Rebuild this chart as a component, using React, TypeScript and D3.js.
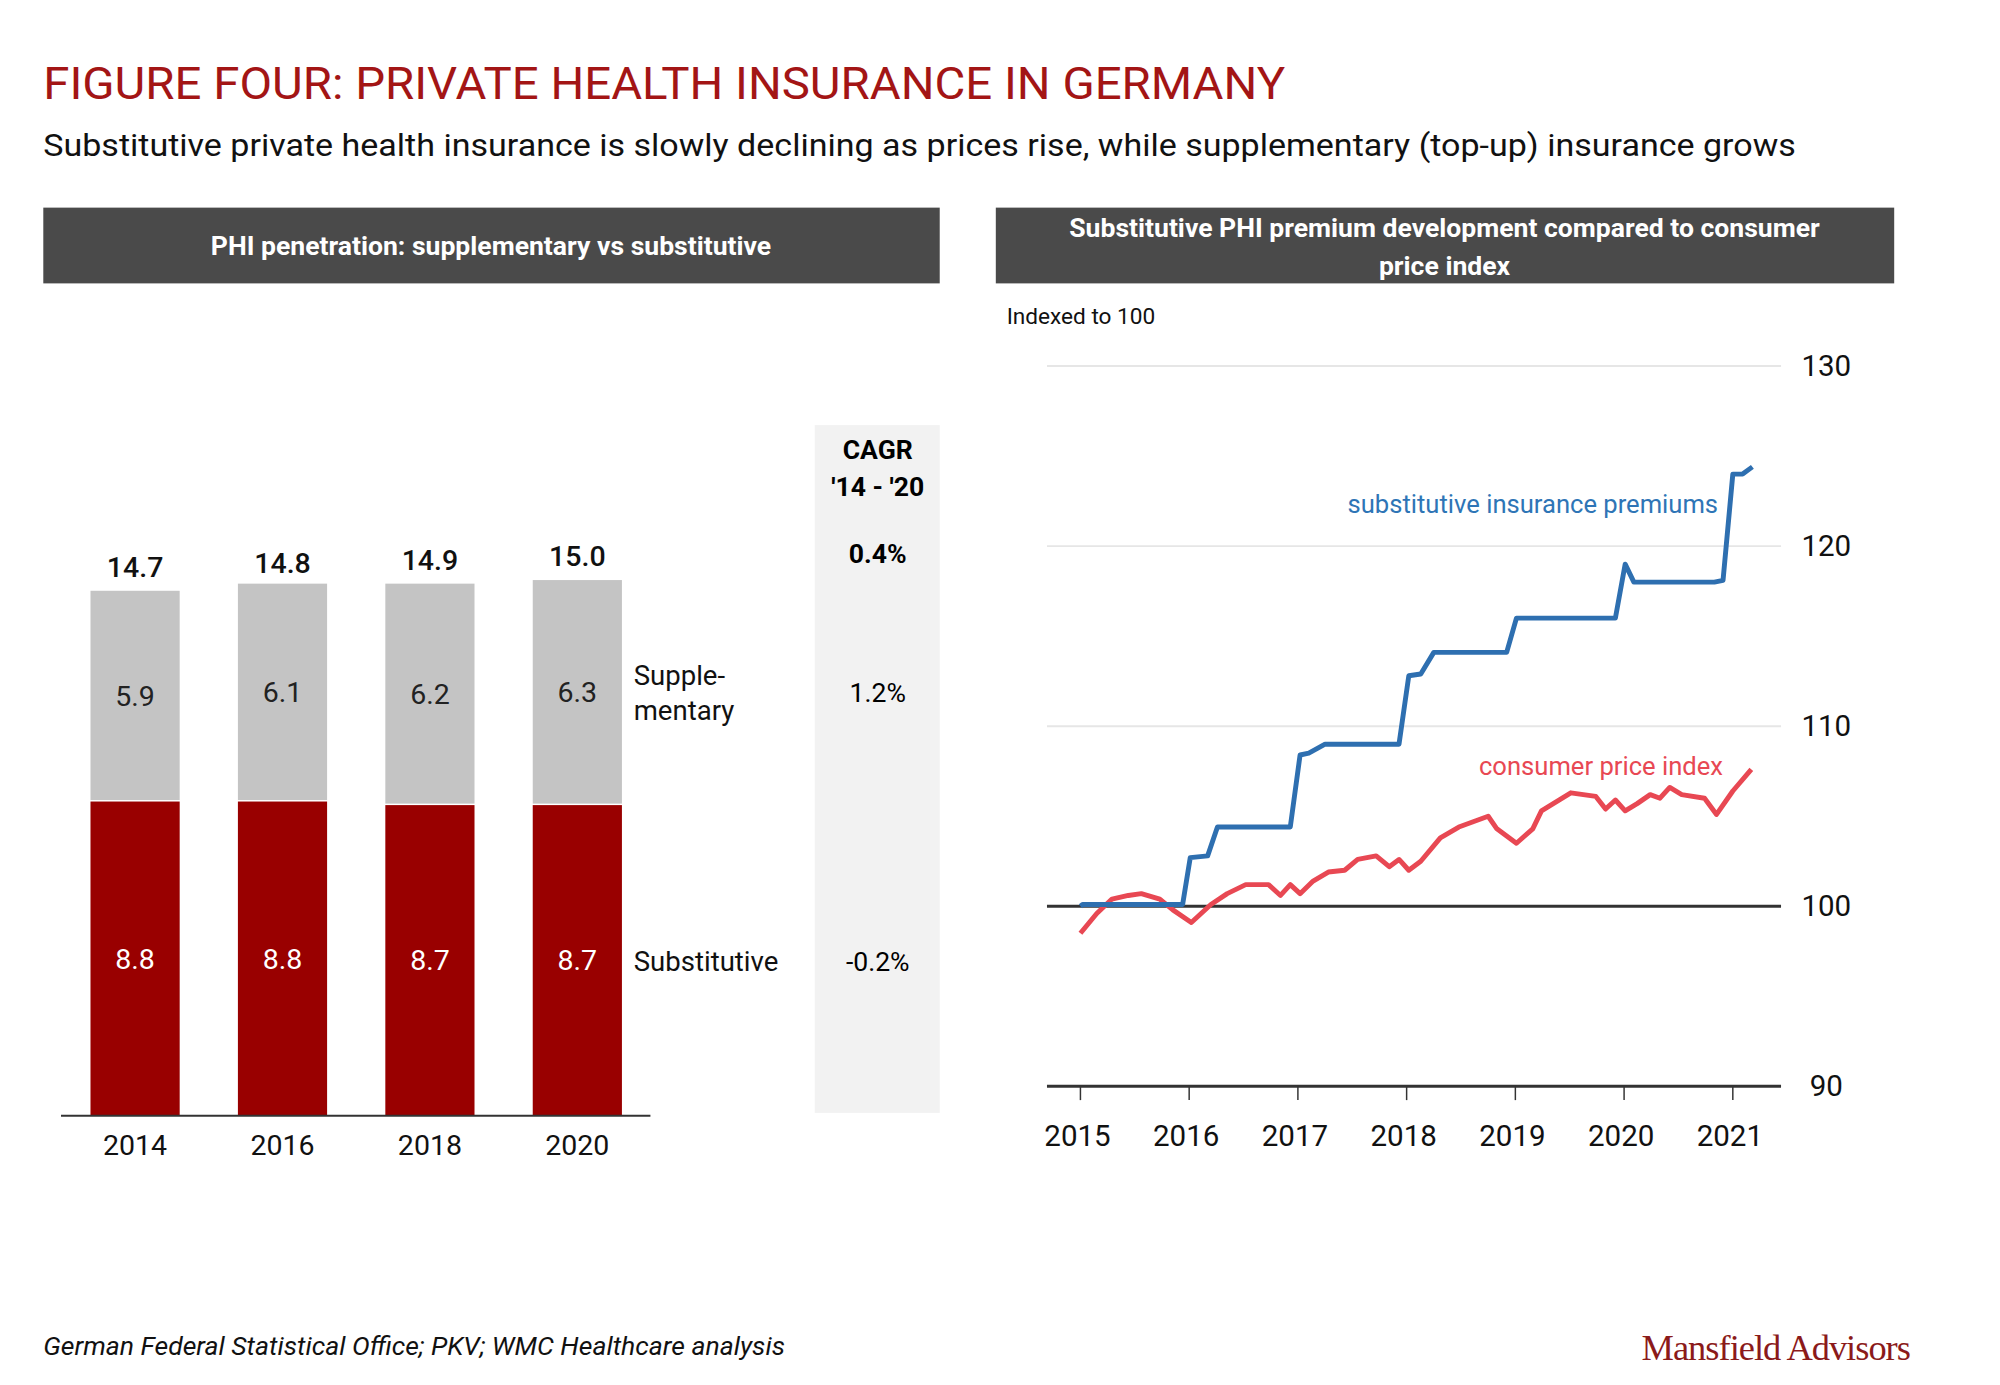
import React from "react";
import * as d3 from "d3";

const years = ["2014", "2016", "2018", "2020"];
const substitutive = [8.8, 8.8, 8.7, 8.7];
const supplementary = [5.9, 6.1, 6.2, 6.3];
const totals = [14.7, 14.8, 14.9, 15.0];
const cagr = ["0.4%", "1.2%", "-0.2%"];

const premiumT = [2015.0, 2015.02, 2015.94, 2016.01, 2016.17, 2016.26, 2016.93, 2017.02, 2017.1, 2017.25, 2017.93, 2018.02, 2018.13, 2018.25, 2018.92, 2019.01, 2019.92, 2020.01, 2020.09, 2020.83, 2020.91, 2021.0, 2021.09, 2021.18];
const premiumV = [100.0, 100.1, 100.1, 102.7, 102.8, 104.4, 104.4, 108.4, 108.5, 109.0, 109.0, 112.8, 112.9, 114.1, 114.1, 116.0, 116.0, 119.0, 118.0, 118.0, 118.1, 124.0, 124.0, 124.4];

const cpiT = [2015.0, 2015.15, 2015.29, 2015.44, 2015.56, 2015.73, 2015.85, 2016.02, 2016.2, 2016.35, 2016.52, 2016.73, 2016.84, 2016.93, 2017.02, 2017.14, 2017.28, 2017.43, 2017.55, 2017.72, 2017.84, 2017.93, 2018.02, 2018.13, 2018.31, 2018.48, 2018.75, 2018.83, 2019.01, 2019.16, 2019.24, 2019.51, 2019.74, 2019.83, 2019.92, 2020.01, 2020.12, 2020.24, 2020.33, 2020.42, 2020.53, 2020.74, 2020.85, 2021.0, 2021.17];
const cpiV = [98.5, 99.6, 100.4, 100.6, 100.7, 100.4, 99.8, 99.1, 100.1, 100.7, 101.2, 101.2, 100.6, 101.2, 100.7, 101.4, 101.9, 102.0, 102.6, 102.8, 102.2, 102.6, 102.0, 102.5, 103.8, 104.4, 105.0, 104.3, 103.5, 104.3, 105.3, 106.3, 106.1, 105.4, 105.9, 105.3, 105.7, 106.2, 106.0, 106.6, 106.2, 106.0, 105.1, 106.4, 107.6];

const yTicks = [90, 100, 110, 120, 130];
const xYears = [2015, 2016, 2017, 2018, 2019, 2020, 2021];

const F = "Roboto, 'Open Sans', sans-serif";

export default function App() {
  const xb = d3.scaleBand<string>().domain(years).range([62, 662]).paddingInner(0.395).paddingOuter(0.2);
  const yb = d3.scaleLinear().domain([0, 15]).range([1134, 1134 - 15 * 36.3]);

  const xl = d3.scaleLinear().domain([2015, 2021]).range([1098, 1761]);
  const yl = d3.scaleLinear().domain([90, 130]).range([1104, 372]);
  const line = d3.line<[number, number]>().x(d => xl(d[0])).y(d => yl(d[1]));
  const prem = line(premiumT.map((t, i) => [t, premiumV[i]]) as [number, number][]) || "";
  const cpi = line(cpiT.map((t, i) => [t, cpiV[i]]) as [number, number][]) || "";

  return (
    <div style={{ margin: -8 }}>
      <svg width={2000} height={1385} style={{ display: "block", background: "#fff" }} fontFamily={F}>
        <g transform="scale(0.984)">
        <text x={44} y={101} fontSize={46} fill="#a31515" textLength={1262} lengthAdjust="spacingAndGlyphs">FIGURE FOUR: PRIVATE HEALTH INSURANCE IN GERMANY</text>
        <text x={44} y={159} fontSize={31} fill="#111" textLength={1781} lengthAdjust="spacingAndGlyphs">Substitutive private health insurance is slowly declining as prices rise, while supplementary (top-up) insurance grows</text>

        <rect x={44} y={211} width={911} height={77} fill="#4a4a4a" />
        <text x={499} y={259} fontSize={27} fontWeight="bold" fill="#fff" textAnchor="middle">PHI penetration: supplementary vs substitutive</text>
        <rect x={1012} y={211} width={913} height={77} fill="#4a4a4a" />
        <text x={1468} y={241} fontSize={27} fontWeight="bold" fill="#fff" textAnchor="middle">Substitutive PHI premium development compared to consumer</text>
        <text x={1468} y={279} fontSize={27} fontWeight="bold" fill="#fff" textAnchor="middle">price index</text>

        <rect x={828} y={432} width={127} height={699} fill="#f2f2f2" />
        <text x={892} y={466} fontSize={27} fontWeight="bold" textAnchor="middle">CAGR</text>
        <text x={892} y={504} fontSize={27} fontWeight="bold" textAnchor="middle">'14 - '20</text>
        <text x={892} y={572} fontSize={27} fontWeight="bold" textAnchor="middle">{cagr[0]}</text>
        <text x={892} y={713} fontSize={27} textAnchor="middle">{cagr[1]}</text>
        <text x={892} y={987} fontSize={27} textAnchor="middle">{cagr[2]}</text>

        {years.map((yr, i) => {
          const x = xb(yr)!;
          const w = xb.bandwidth();
          const cx = x + w / 2;
          const ySub = yb(substitutive[i]);
          const yTot = yb(substitutive[i] + supplementary[i]);
          return (
            <g key={yr}>
              <rect x={x} y={ySub} width={w} height={yb(0) - ySub} fill="#990000" />
              <rect x={x} y={yTot} width={w} height={ySub - yTot - 1.5} fill="#c4c4c4" />
              <text x={cx} y={(ySub + yb(0)) / 2 + 10} fontSize={29} fill="#fff" textAnchor="middle">{substitutive[i].toFixed(1)}</text>
              <text x={cx} y={(ySub + yTot) / 2 + 10} fontSize={29} fill="#222" textAnchor="middle">{supplementary[i].toFixed(1)}</text>
              <text x={cx} y={yb(totals[i]) - 14} fontSize={29} fontWeight={500} fill="#111" textAnchor="middle">{totals[i].toFixed(1)}</text>
              <text x={cx} y={1174} fontSize={29} fill="#111" textAnchor="middle">{yr}</text>
            </g>
          );
        })}
        <line x1={62} x2={661} y1={1134} y2={1134} stroke="#333" strokeWidth={2} />
        <text x={644} y={696} fontSize={28} fill="#111">Supple-</text>
        <text x={644} y={732} fontSize={28} fill="#111">mentary</text>
        <text x={644} y={987} fontSize={28} fill="#111">Substitutive</text>

        <text x={1023} y={329} fontSize={23} fill="#111">Indexed to 100</text>
        {yTicks.map(v => (
          <g key={v}>
            <line x1={1064} x2={1810} y1={yl(v)} y2={yl(v)}
              stroke={v === 100 || v === 90 ? "#333" : "#e6e6e6"} strokeWidth={v === 100 || v === 90 ? 3 : 2} />
            <text x={1856} y={yl(v) + 10} fontSize={30} fill="#111" textAnchor="middle">{v}</text>
          </g>
        ))}
        {xYears.map(y => (
          <g key={y}>
            <line x1={xl(y)} x2={xl(y)} y1={1104} y2={1118} stroke="#333" strokeWidth={1.5} />
            <text x={xl(y) - 3} y={1165} fontSize={30} fill="#111" textAnchor="middle">{y}</text>
          </g>
        ))}
        <path d={cpi} fill="none" stroke="#e84853" strokeWidth={5} strokeLinejoin="round" />
        <path d={prem} fill="none" stroke="#2e6fb0" strokeWidth={5} strokeLinejoin="round" />
        <text x={1746} y={521} fontSize={26} fill="#2e75b6" textAnchor="end">substitutive insurance premiums</text>
        <text x={1751} y={788} fontSize={26} fill="#e84853" textAnchor="end">consumer price index</text>

        <text x={44} y={1377} fontSize={27} fontStyle="italic" fill="#111">German Federal Statistical Office; PKV; WMC Healthcare analysis</text>
        <text x={1941} y={1382} fontSize={37} fill="#8b1a1a" textAnchor="end" fontFamily="'Liberation Serif', 'DejaVu Serif', serif" letterSpacing={-1}>Mansfield Advisors</text>
        </g>
      </svg>
    </div>
  );
}
